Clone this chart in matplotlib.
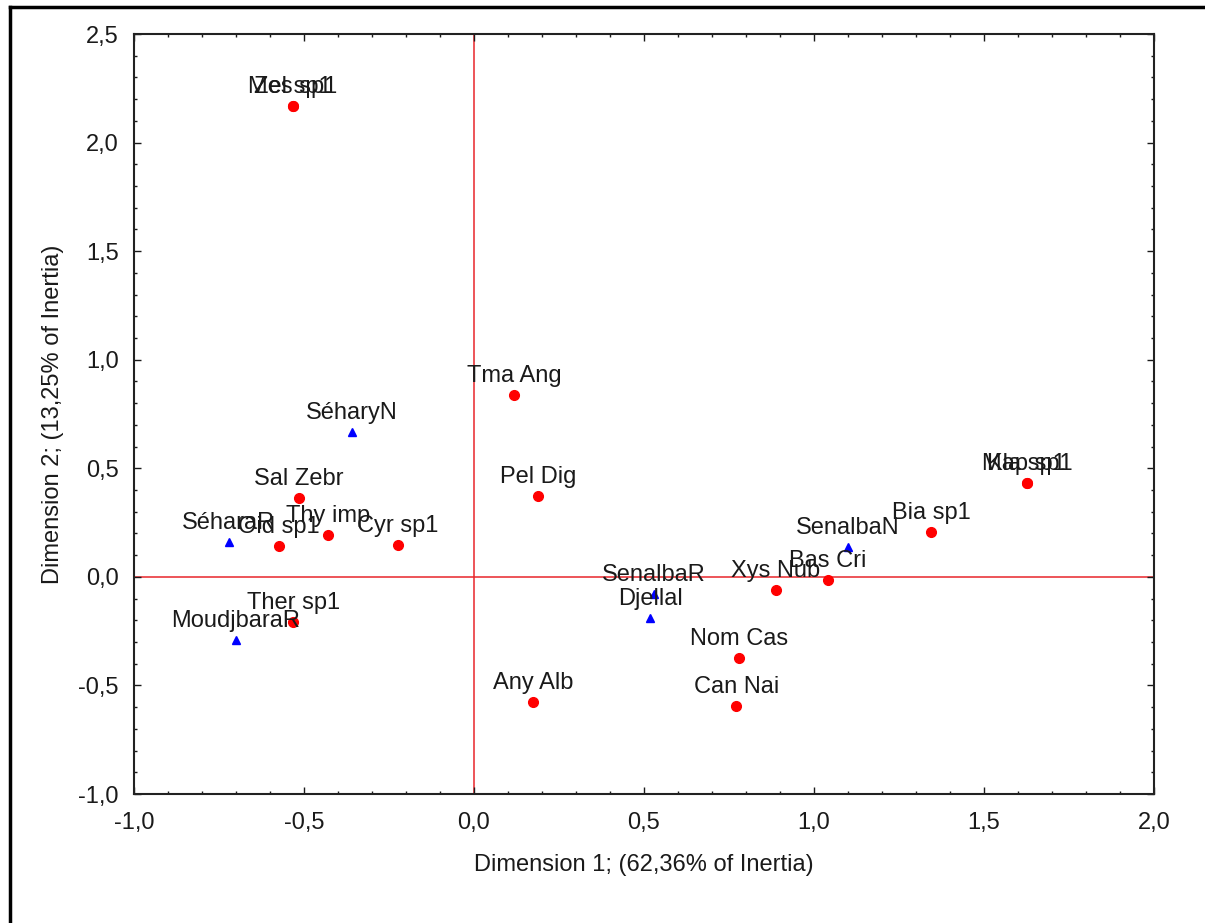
import matplotlib
matplotlib.use("Agg")
import matplotlib.pyplot as plt
from matplotlib.ticker import MultipleLocator, FuncFormatter
from matplotlib.lines import Line2D

plt.rcParams['font.family'] = ['Liberation Sans', 'DejaVu Sans']

# Species (column points)
species = ['Mes sp1', 'Zel sp1', 'Tma Ang', 'Pel Dig', 'Sal Zebr', 'Thy imp',
           'Oid sp1', 'Cyr sp1', 'Ther sp1', 'Any Alb', 'Nom Cas', 'Can Nai',
           'Xys Nub', 'Bas Cri', 'Bia sp1', 'Kla sp1', 'Map sp1']
species_d1 = [-0.532, -0.532, 0.118, 0.188, -0.515, -0.429,
              -0.574, -0.224, -0.532, 0.174, 0.779, 0.771,
              0.888, 1.041, 1.344, 1.626, 1.626]
species_d2 = [2.169, 2.169, 0.838, 0.373, 0.363, 0.193,
              0.142, 0.147, -0.208, -0.576, -0.374, -0.595,
              -0.060, -0.014, 0.207, 0.432, 0.432]

# Sites (row points)
sites = ['SéharyN', 'SéharaR', 'MoudjbaraR', 'SenalbaR', 'Djellal', 'SenalbaN']
sites_d1 = [-0.359, -0.721, -0.700, 0.529, 0.518, 1.100]
sites_d2 = [0.667, 0.161, -0.291, -0.079, -0.189, 0.138]

fig = plt.figure(figsize=(12.05, 9.23), dpi=100)
ax = fig.add_axes([134 / 1205, 1 - 794 / 923, 1020 / 1205, 760 / 923])

ax.axhline(0, color='#e8262b', linewidth=1.1, zorder=1)
ax.axvline(0, color='#e8262b', linewidth=1.1, zorder=1)

ax.plot(species_d1, species_d2, 'o', color='#ff0000', markersize=7, zorder=3)
ax.plot(sites_d1, sites_d2, '^', color='#0000ff', markersize=6, zorder=3)

for name, x, y in zip(species + sites, species_d1 + sites_d1, species_d2 + sites_d2):
    ax.annotate(name, (x, y), xytext=(0, 9.5), textcoords='offset points',
                ha='center', va='baseline', fontsize=17, color='#1a1a1a', zorder=4)

ax.set_xlim(-1.0, 2.0)
ax.set_ylim(-1.0, 2.5)
ax.xaxis.set_major_locator(MultipleLocator(0.5))
ax.xaxis.set_minor_locator(MultipleLocator(0.1))
ax.yaxis.set_major_locator(MultipleLocator(0.5))
ax.yaxis.set_minor_locator(MultipleLocator(0.1))
comma = FuncFormatter(lambda v, p: ('%.1f' % v).replace('.', ','))
ax.xaxis.set_major_formatter(comma)
ax.yaxis.set_major_formatter(comma)
ax.tick_params(which='both', direction='in', top=True, right=True,
               labelsize=17, colors='#1a1a1a')
ax.tick_params(axis='x', which='major', pad=13)
ax.tick_params(axis='y', which='major', pad=11)
ax.tick_params(which='major', length=5, width=1)
ax.tick_params(which='minor', length=2.5, width=1)
for s in ax.spines.values():
    s.set_linewidth(1.5)
    s.set_color('#222222')

ax.set_xlabel('Dimension 1; (62,36% of Inertia)', fontsize=17, labelpad=14, color='#1a1a1a')
ax.set_ylabel('Dimension 2; (13,25% of Inertia)', fontsize=17, labelpad=10, color='#1a1a1a')

# outer frame (top and left edges visible)
fig.add_artist(Line2D([10 / 1205, 1], [1 - 7 / 923, 1 - 7 / 923],
                      transform=fig.transFigure, color='black', linewidth=2.5))
fig.add_artist(Line2D([10 / 1205, 10 / 1205], [0, 1 - 7 / 923],
                      transform=fig.transFigure, color='black', linewidth=2.5))

fig.savefig('out.png', dpi=100)
